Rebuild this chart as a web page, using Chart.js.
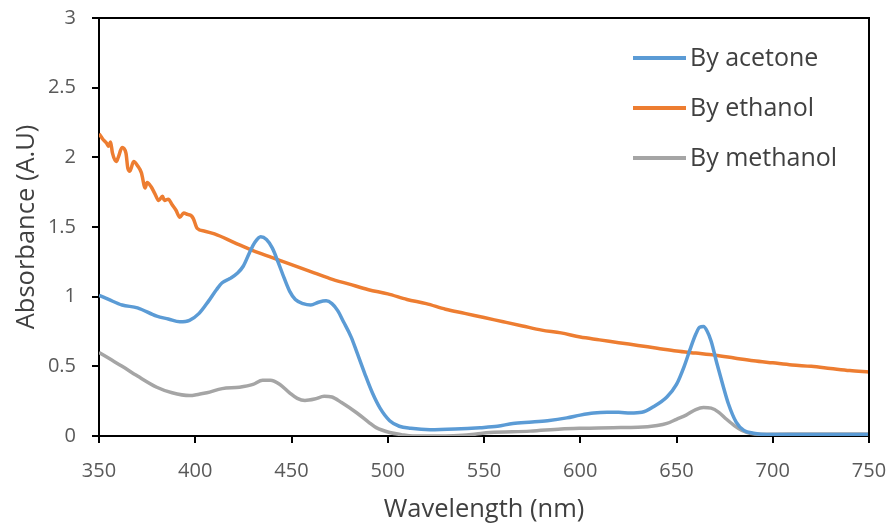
<!DOCTYPE html>
<html>
<head>
<meta charset="utf-8">
<script src="https://cdn.jsdelivr.net/npm/chart.js@4.4.1/dist/chart.umd.min.js"></script>
<style>
  html, body { margin: 0; padding: 0; background: #fff; }
  #wrap { width: 891px; height: 525px; }
</style>
</head>
<body>
<div id="wrap"><canvas id="myChart"></canvas></div>
<script>
const ctx = document.getElementById('myChart');

// wavelength (nm) and absorbance for each solvent extract
const acetoneNm = [350, 355, 362, 370, 380, 386, 392, 397, 402, 407, 411, 414, 418, 422, 425, 428, 431, 434, 437, 440,
  443, 446, 449, 452, 456, 460, 464, 468, 471, 474, 477, 481, 484, 488, 492, 496, 501, 506, 512, 522,
  535, 548, 557, 565, 575, 583, 593, 600, 607, 614, 620, 626, 632, 638, 645, 650, 654, 657, 660, 662,
  664, 666, 668, 671, 674, 677, 681, 685, 690, 697, 720, 750];
const acetoneAbs = [1.01, 0.98, 0.94, 0.92, 0.86, 0.84, 0.82, 0.83, 0.88, 0.97, 1.05, 1.10, 1.13, 1.17, 1.22, 1.31, 1.39, 1.43, 1.41, 1.35,
  1.25, 1.14, 1.04, 0.98, 0.95, 0.94, 0.96, 0.97, 0.95, 0.90, 0.82, 0.71, 0.60, 0.45, 0.31, 0.20, 0.11, 0.07, 0.055, 0.045,
  0.05, 0.06, 0.07, 0.09, 0.10, 0.11, 0.13, 0.15, 0.165, 0.17, 0.17, 0.165, 0.17, 0.21, 0.28, 0.37, 0.50, 0.62, 0.73, 0.78,
  0.785, 0.75, 0.68, 0.52, 0.37, 0.23, 0.10, 0.04, 0.02, 0.01, 0.01, 0.01];

const ethanolNm = [350, 352, 354, 355, 356, 357, 359, 360, 362, 364, 365, 366, 368, 370, 372, 374, 375, 377, 379, 381,
  383, 384, 386, 388, 390, 392, 394, 396, 398, 399, 401, 405, 410, 420, 430, 440, 450, 460, 470, 480,
  490, 500, 510, 520, 530, 540, 550, 560, 570, 580, 590, 600, 610, 620, 630, 640, 650, 660, 670, 680,
  690, 700, 710, 720, 730, 740, 750];
const ethanolAbs = [2.17, 2.13, 2.10, 2.08, 2.11, 2.03, 1.97, 2.00, 2.07, 2.03, 1.92, 1.90, 1.97, 1.94, 1.89, 1.78, 1.82, 1.79, 1.74, 1.69,
  1.72, 1.69, 1.70, 1.66, 1.62, 1.57, 1.60, 1.59, 1.58, 1.56, 1.49, 1.47, 1.45, 1.39, 1.33, 1.28, 1.23, 1.18, 1.13, 1.09,
  1.05, 1.02, 0.98, 0.95, 0.91, 0.88, 0.85, 0.82, 0.79, 0.76, 0.74, 0.71, 0.69, 0.67, 0.65, 0.63, 0.61, 0.595, 0.58, 0.56,
  0.54, 0.525, 0.51, 0.50, 0.485, 0.47, 0.46];

const methanolNm = [350, 356, 362, 370, 380, 388, 397, 402, 406, 414, 423, 430, 435, 439, 444, 449, 453, 457, 462, 467,
  471, 476, 484, 490, 494, 501, 507, 513, 530, 539, 546, 553, 574, 590, 600, 617, 630, 640, 645, 650,
  655, 660, 664, 668, 672, 676, 680, 684, 688, 697, 720, 750];
const methanolAbs = [0.60, 0.55, 0.50, 0.43, 0.35, 0.31, 0.29, 0.30, 0.31, 0.34, 0.35, 0.37, 0.40, 0.40, 0.37, 0.31, 0.27, 0.255, 0.265, 0.285,
  0.28, 0.24, 0.165, 0.10, 0.06, 0.025, 0.01, 0.0, 0.0, 0.005, 0.015, 0.025, 0.035, 0.05, 0.055, 0.06, 0.062, 0.075, 0.09, 0.12,
  0.15, 0.19, 0.205, 0.20, 0.17, 0.12, 0.075, 0.04, 0.02, 0.012, 0.015, 0.015];

const seriesNames = ['By acetone', 'By ethanol', 'By methanol'];
const seriesColors = ['#5B9BD5', '#ED7D31', '#A5A5A5'];

const xTicks = [350, 400, 450, 500, 550, 600, 650, 700, 750];
const yTicks = [0, 0.5, 1, 1.5, 2, 2.5, 3];

const toPoints = (xs, ys) => xs.map((x, i) => ({ x: x, y: ys[i] }));

const series = [
  toPoints(acetoneNm, acetoneAbs),
  toPoints(ethanolNm, ethanolAbs),
  toPoints(methanolNm, methanolAbs)
];

const textColor = '#595959';
const fontFamily = '"Open Sans", sans-serif';

// frame round the plot area plus a legend placed inside it, top right
const framePlugin = {
  id: 'frameAndLegend',
  afterDraw(chart) {
    const c = chart.ctx;
    const a = chart.chartArea;
    c.save();
    c.strokeStyle = '#000';
    c.lineWidth = 2;
    c.beginPath();
    c.moveTo(a.left, a.top);
    c.lineTo(a.right, a.top);
    c.lineTo(a.right, a.bottom);
    c.stroke();

    const rows = [58, 108, 158];
    c.font = '25px ' + fontFamily;
    c.textBaseline = 'middle';
    c.textAlign = 'left';
    chart.data.datasets.forEach((ds, i) => {
      c.strokeStyle = ds.borderColor;
      c.lineWidth = 4;
      c.beginPath();
      c.moveTo(633, rows[i]);
      c.lineTo(686, rows[i]);
      c.stroke();
      c.fillStyle = '#404040';
      c.fillText(ds.label, 690, rows[i] + 1);
    });
    c.restore();
  }
};

const data = {
  datasets: series.map((pts, i) => ({
    label: seriesNames[i],
    data: pts,
    borderColor: seriesColors[i],
    backgroundColor: seriesColors[i],
    borderWidth: 3.5,
    pointRadius: 0,
    fill: false,
    cubicInterpolationMode: 'monotone'
  }))
};

const config = {
  type: 'line',
  data: data,
  options: {
    responsive: true,
    maintainAspectRatio: false,
    animation: false,
    layout: { padding: { top: 18, right: 22, left: 0, bottom: 0 } },
    plugins: {
      legend: { display: false },
      tooltip: { enabled: false }
    },
    scales: {
      x: {
        type: 'linear',
        min: 350,
        max: 750,
        afterBuildTicks: (scale) => { scale.ticks = xTicks.map(v => ({ value: v })); },
        afterFit: (scale) => {
          scale.height = 89;
          scale.paddingLeft = 0;
          scale.paddingRight = 0;
        },
        border: { display: true, color: '#000', width: 2 },
        grid: { drawOnChartArea: false, drawTicks: true, tickLength: 7, color: '#000', lineWidth: 2 },
        ticks: { color: textColor, font: { family: fontFamily, size: 20 }, padding: 16, maxRotation: 0 },
        title: {
          display: true,
          text: 'Wavelength (nm)',
          color: '#404040',
          font: { family: fontFamily, size: 25.5 },
          padding: { top: 0, bottom: 0 }
        }
      },
      y: {
        min: 0,
        max: 3,
        afterBuildTicks: (scale) => { scale.ticks = yTicks.map(v => ({ value: v })); },
        afterFit: (scale) => {
          scale.width = 99;
          scale.paddingTop = 0;
          scale.paddingBottom = 0;
        },
        border: { display: true, color: '#000', width: 2 },
        grid: { drawOnChartArea: false, drawTicks: true, tickLength: 7, color: '#000', lineWidth: 2 },
        ticks: {
          color: textColor,
          font: { family: fontFamily, size: 20 },
          padding: 16,
          callback: (v) => String(v)
        },
        title: {
          display: true,
          text: 'Absorbance (A.U)',
          color: '#404040',
          font: { family: fontFamily, size: 25.5 },
          padding: { top: 11, bottom: 0 }
        }
      }
    }
  },
  plugins: [framePlugin]
};

new Chart(ctx, config);
</script>
</body>
</html>
